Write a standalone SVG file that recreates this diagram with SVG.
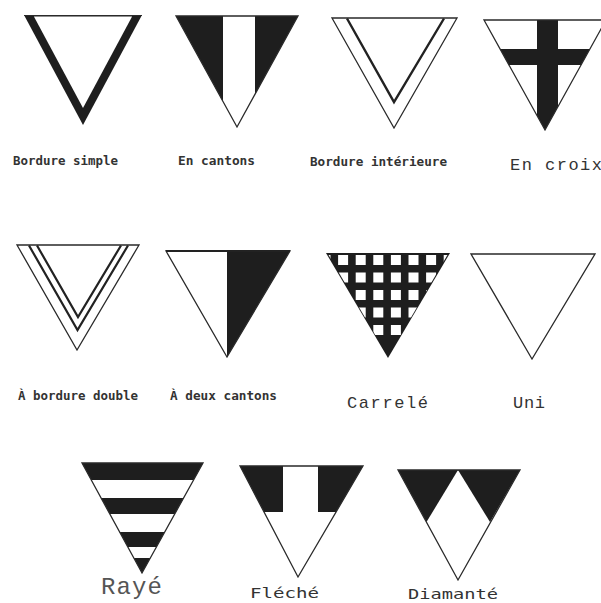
<svg xmlns="http://www.w3.org/2000/svg" width="601" height="603" viewBox="0 0 601 603">
<style>
.bg{fill:#fff}
.dk{fill:#1e1e1e}
.wh{fill:#fff}
.ol{fill:none;stroke:#2a2a2a;stroke-width:1.3;stroke-linejoin:miter}
.ln{fill:none;stroke:#222;stroke-width:2.4;stroke-linejoin:miter}
.sm{font-family:"DejaVu Sans Mono","Liberation Mono",monospace;font-size:12px;fill:#333;font-weight:bold}
.lg{font-family:"Liberation Mono","DejaVu Sans Mono",monospace;font-size:17px;fill:#333}
.md{font-family:"DejaVu Sans Mono","Liberation Mono",monospace;font-size:14px;fill:#333}
.xl{font-family:"Liberation Mono","DejaVu Sans Mono",monospace;font-size:24px;fill:#555}
</style>
<defs>
<clipPath id="c4"><polygon points="484,20 606,20 545,130"/></clipPath>
<clipPath id="c7"><polygon points="328,254 448,254 388,357"/></clipPath>
<clipPath id="c9"><polygon points="82,463 203,463 142,573"/></clipPath>
</defs>
<rect class="bg" x="0" y="0" width="601" height="603"/>

<g id="bordure-simple">
<polygon class="dk" points="24,15 142,15 83,125"/>
<polygon class="wh" points="33.9,16.5 132.1,16.5 83,108"/>
<line x1="24" y1="15.5" x2="142" y2="15.5" stroke="#2a2a2a" stroke-width="1.2"/>
<text class="sm" x="13" y="165" textLength="105" lengthAdjust="spacingAndGlyphs">Bordure simple</text>
</g>

<g id="en-cantons">
<polygon class="dk" points="176,16 223,16 223,101.5"/>
<polygon class="dk" points="255,16 298,16 255,94.2"/>
<polygon class="ol" points="176,16 298,16 237,127"/>
<text class="sm" x="178" y="165" textLength="77" lengthAdjust="spacingAndGlyphs">En cantons</text>
</g>

<g id="bordure-interieure">
<polygon class="ol" points="332,18 457,18 394,128"/>
<polyline class="ln" points="347,18.5 394,102 444,18.5"/>
<text class="sm" x="310" y="166" textLength="137" lengthAdjust="spacingAndGlyphs">Bordure intérieure</text>
</g>

<g id="en-croix">
<g clip-path="url(#c4)">
<rect class="dk" x="537" y="20" width="21" height="112"/>
<rect class="dk" x="480" y="49" width="130" height="16"/>
</g>
<polygon class="ol" points="484,20 606,20 545,130"/>
<text class="lg" x="510" y="170" textLength="92" lengthAdjust="spacing">En croix</text>
</g>

<g id="bordure-double">
<polygon class="ol" points="17,245 139,245 77,350"/>
<polyline class="ln" points="29,245.5 77.5,330 128,245.5" style="stroke-width:2.2"/>
<polyline class="ln" points="37,245.5 78,317 121,245.5" style="stroke-width:2.2"/>
<text class="sm" x="18" y="400" textLength="120" lengthAdjust="spacingAndGlyphs">À bordure double</text>
</g>

<g id="deux-cantons">
<polygon class="dk" points="227,251 290,251 227,357"/>
<polygon class="ol" points="166,251 290,251 227,357"/>
<line x1="166" y1="251" x2="290" y2="251" stroke="#222" stroke-width="2"/>
<text class="sm" x="170" y="400" textLength="107" lengthAdjust="spacingAndGlyphs">À deux cantons</text>
</g>

<g id="carrele">
<polygon class="dk" points="326,253 450,253 388,358"/>
<g clip-path="url(#c7)" class="wh">
<rect x="320.5" y="255" width="10" height="10"/><rect x="338.1" y="255" width="10" height="10"/><rect x="355.7" y="255" width="10" height="10"/><rect x="373.3" y="255" width="10" height="10"/><rect x="390.9" y="255" width="10" height="10"/><rect x="408.5" y="255" width="10" height="10"/><rect x="426.1" y="255" width="10" height="10"/><rect x="443.7" y="255" width="10" height="10"/>
<rect x="338.1" y="272.5" width="10" height="10"/><rect x="355.7" y="272.5" width="10" height="10"/><rect x="373.3" y="272.5" width="10" height="10"/><rect x="390.9" y="272.5" width="10" height="10"/><rect x="408.5" y="272.5" width="10" height="10"/><rect x="426.1" y="272.5" width="10" height="10"/>
<rect x="355.7" y="290" width="10" height="10"/><rect x="373.3" y="290" width="10" height="10"/><rect x="390.9" y="290" width="10" height="10"/><rect x="408.5" y="290" width="10" height="10"/><rect x="426.1" y="290" width="10" height="10"/>
<rect x="355.7" y="307.5" width="10" height="10"/><rect x="373.3" y="307.5" width="10" height="10"/><rect x="390.9" y="307.5" width="10" height="10"/><rect x="408.5" y="307.5" width="10" height="10"/>
<rect x="373.3" y="325" width="10" height="10"/><rect x="390.9" y="325" width="10" height="10"/>
</g>
<text class="lg" x="347" y="408" textLength="81" lengthAdjust="spacing">Carrelé</text>
</g>

<g id="uni">
<polygon class="ol" points="471,254 595,254 532,359"/>
<text class="lg" x="513" y="408" textLength="32" lengthAdjust="spacing">Uni</text>
</g>

<g id="raye">
<g clip-path="url(#c9)" class="dk">
<rect x="80" y="463" width="125" height="17"/>
<rect x="80" y="498" width="125" height="16"/>
<rect x="80" y="532" width="125" height="15"/>
<rect x="80" y="558" width="125" height="16"/>
</g>
<polygon class="ol" points="82,463 203,463 142,573"/>
<text class="xl" x="101" y="594" textLength="61" lengthAdjust="spacing">Rayé</text>
</g>

<g id="fleche">
<polygon class="dk" points="240,466 283,466 283,512 264,512"/>
<polygon class="dk" points="318,466 363,466 336.1,512 318,512"/>
<polygon class="ol" points="240,466 363,466 298,577"/>
<text class="md" x="250" y="598" textLength="69" lengthAdjust="spacingAndGlyphs">Fléché</text>
</g>

<g id="diamante">
<polygon class="dk" points="398,470 458,470 426.5,522"/>
<polygon class="dk" points="458,470 520,470 490,522"/>
<polygon class="ol" points="398,470 520,470 458,580"/>
<text class="md" x="408" y="599" textLength="90" lengthAdjust="spacingAndGlyphs">Diamanté</text>
</g>
</svg>
